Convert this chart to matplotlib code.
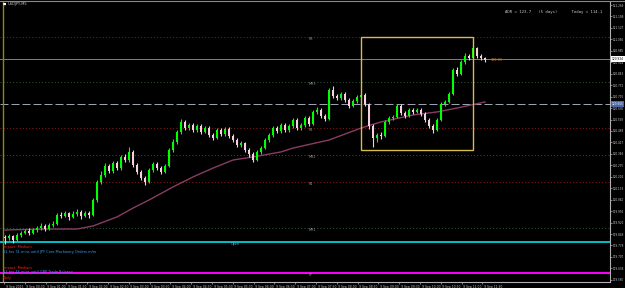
import matplotlib
matplotlib.use("Agg")
import matplotlib.pyplot as plt
import matplotlib.transforms as mtransforms
import numpy as np

# ---------------- data ----------------
symbol_title = "USDJPY,M5"
adr_text = "ADR = 123.7   (5 days)      Today = 114.1"

opens = [119.830, 119.824, 119.837, 119.812, 119.843, 119.855, 119.868, 119.855, 119.874, 119.886,
         119.899, 119.880, 119.905, 119.911, 119.967, 119.961, 119.979, 119.955, 119.973, 119.986,
         119.961, 119.979, 119.967, 120.060, 120.172, 120.215, 120.271, 120.240, 120.289, 120.258,
         120.327, 120.308, 120.358, 120.277, 120.234, 120.196, 120.172, 120.246, 120.283, 120.258,
         120.234, 120.271, 120.370, 120.420, 120.482, 120.544, 120.506, 120.525, 120.494, 120.519,
         120.482, 120.506, 120.463, 120.444, 120.494, 120.469, 120.500, 120.457, 120.432, 120.401,
         120.413, 120.370, 120.345, 120.308, 120.358, 120.382, 120.432, 120.463, 120.506, 120.488,
         120.525, 120.494, 120.519, 120.556, 120.506, 120.525, 120.568, 120.531, 120.606, 120.618,
         120.581, 120.562, 120.742, 120.705, 120.692, 120.717, 120.680, 120.643, 120.674, 120.699,
         120.711, 120.655, 120.519, 120.444, 120.463, 120.457, 120.544, 120.568, 120.575, 120.643,
         120.600, 120.581, 120.618, 120.606, 120.618, 120.593, 120.556, 120.519, 120.494, 120.556,
         120.655, 120.668, 120.717, 120.866, 120.841, 120.916, 120.953, 120.940, 121.002, 120.953,
         120.940]
closes = [119.824, 119.837, 119.812, 119.843, 119.855, 119.868, 119.855, 119.874, 119.886, 119.899,
          119.880, 119.905, 119.911, 119.967, 119.961, 119.979, 119.955, 119.973, 119.986, 119.961,
          119.979, 119.967, 120.060, 120.172, 120.215, 120.271, 120.240, 120.289, 120.258, 120.327,
          120.308, 120.358, 120.277, 120.234, 120.196, 120.172, 120.246, 120.283, 120.258, 120.234,
          120.271, 120.370, 120.420, 120.482, 120.544, 120.506, 120.525, 120.494, 120.519, 120.482,
          120.506, 120.463, 120.444, 120.494, 120.469, 120.500, 120.457, 120.432, 120.401, 120.413,
          120.370, 120.345, 120.308, 120.358, 120.382, 120.432, 120.463, 120.506, 120.488, 120.525,
          120.494, 120.519, 120.556, 120.506, 120.525, 120.568, 120.531, 120.606, 120.618, 120.581,
          120.562, 120.742, 120.705, 120.692, 120.717, 120.680, 120.643, 120.674, 120.699, 120.711,
          120.655, 120.519, 120.444, 120.463, 120.457, 120.544, 120.568, 120.575, 120.643, 120.600,
          120.581, 120.618, 120.606, 120.618, 120.593, 120.556, 120.519, 120.494, 120.556, 120.655,
          120.668, 120.717, 120.866, 120.841, 120.916, 120.953, 120.940, 121.002, 120.953, 120.940,
          120.928]
highs = [119.843, 119.849, 119.843, 119.855, 119.868, 119.880, 119.886, 119.886, 119.899, 119.917,
         119.911, 119.917, 119.930, 119.980, 119.986, 119.992, 119.986, 119.992, 120.004, 119.998,
         119.992, 119.992, 120.073, 120.184, 120.240, 120.289, 120.283, 120.302, 120.302, 120.339,
         120.345, 120.389, 120.370, 120.289, 120.246, 120.209, 120.258, 120.296, 120.296, 120.271,
         120.283, 120.382, 120.438, 120.494, 120.562, 120.556, 120.537, 120.537, 120.531, 120.531,
         120.519, 120.519, 120.476, 120.506, 120.506, 120.513, 120.513, 120.469, 120.444, 120.426,
         120.420, 120.382, 120.358, 120.370, 120.395, 120.444, 120.476, 120.519, 120.519, 120.537,
         120.537, 120.531, 120.568, 120.568, 120.537, 120.581, 120.581, 120.618, 120.637, 120.630,
         120.593, 120.755, 120.767, 120.717, 120.730, 120.730, 120.692, 120.686, 120.711, 120.724,
         120.724, 120.662, 120.531, 120.476, 120.482, 120.556, 120.581, 120.587, 120.655, 120.655,
         120.612, 120.630, 120.630, 120.630, 120.630, 120.606, 120.568, 120.531, 120.568, 120.668,
         120.680, 120.730, 120.878, 120.884, 120.928, 120.971, 120.965, 121.020, 121.008, 120.965,
         120.946]
lows = [119.790, 119.812, 119.795, 119.806, 119.830, 119.849, 119.843, 119.849, 119.862, 119.874,
        119.868, 119.874, 119.893, 119.905, 119.948, 119.955, 119.936, 119.948, 119.961, 119.942,
        119.955, 119.948, 119.961, 120.048, 120.160, 120.203, 120.228, 120.228, 120.246, 120.246,
        120.296, 120.296, 120.265, 120.221, 120.184, 120.153, 120.166, 120.234, 120.246, 120.221,
        120.228, 120.265, 120.358, 120.407, 120.469, 120.494, 120.494, 120.482, 120.482, 120.469,
        120.476, 120.451, 120.432, 120.438, 120.457, 120.457, 120.444, 120.420, 120.389, 120.389,
        120.358, 120.327, 120.296, 120.302, 120.345, 120.376, 120.420, 120.451, 120.476, 120.476,
        120.482, 120.482, 120.506, 120.494, 120.494, 120.513, 120.519, 120.525, 120.593, 120.568,
        120.550, 120.556, 120.693, 120.680, 120.680, 120.668, 120.630, 120.637, 120.662, 120.686,
        120.643, 120.500, 120.389, 120.420, 120.438, 120.451, 120.531, 120.556, 120.568, 120.587,
        120.568, 120.575, 120.593, 120.600, 120.581, 120.544, 120.506, 120.476, 120.488, 120.550,
        120.643, 120.662, 120.711, 120.829, 120.835, 120.903, 120.928, 120.934, 120.940, 120.928,
        120.916]

ma_bars = [0, 10, 18, 22, 28, 32, 36, 42, 47, 52, 57, 62, 69, 72, 81, 89, 94, 102, 108, 113, 120]
ma_values = [119.874, 119.880, 119.880, 119.899, 119.955, 120.010, 120.060, 120.141, 120.203, 120.258,
             120.308, 120.327, 120.358, 120.382, 120.432, 120.506, 120.544, 120.587, 120.606, 120.630,
             120.668]

level_names = ["R3", "MR3", "R2", "MR2", "R1", "MR1", "PP"]
level_prices = [121.071, 120.792, 120.506, 120.339, 120.172, 119.886, 119.607]
level_colors = ["#8a1a1a", "#2a5a36", "#8a1a1a", "#2a5a36", "#8a1a1a", "#2a5a36", "#ff00ff"]

bid_price = 120.934
dashed_price = 120.655
open_price = 119.800

box_bars = [89, 117]
box_prices = [120.370, 121.071]

ytick_values = [119.565 + 0.071 * k for k in range(25)]
xtick_labels = ["9 Sep 2015", "9 Sep 00:30", "9 Sep 01:00", "9 Sep 01:30", "9 Sep 02:00",
                "9 Sep 02:30", "9 Sep 03:00", "9 Sep 03:30", "9 Sep 04:00", "9 Sep 04:30",
                "9 Sep 05:00", "9 Sep 05:30", "9 Sep 06:00", "9 Sep 06:30", "9 Sep 07:00",
                "9 Sep 07:30", "9 Sep 08:00", "9 Sep 08:30", "9 Sep 09:00", "9 Sep 09:30",
                "9 Sep 10:00", "9 Sep 10:30", "9 Sep 11:00", "9 Sep 11:30"]
xtick_bars = [5.2 * k - 0.25 for k in range(24)]

news_lines = [("Impact: Medium", "#ff2020"),
              ("11 hrs 31 mins until JPY Core Machinery Orders m/m", "#3aa0e8"),
              ("Impact: Medium", "#ff2020"),
              ("13 hrs 46 mins until GBP Trade Balance", "#3aa0e8"),
              ("Daily", "#ff2020")]

# ---------------- figure ----------------
W, H = 625, 288
fig = plt.figure(figsize=(W / 100, H / 100), dpi=100, facecolor="black")
ax = fig.add_axes([0 / W, (H - 282) / H, 610 / W, 280 / H])
ax.set_facecolor("black")

def px2price(y):
    return 121.3 - 0.0062 * y

def px2bar(x):
    return (x - 5) / 4.0

ax.set_xlim(px2bar(0), px2bar(610))
ax.set_ylim(px2price(282), px2price(2))

pxw = 0.72  # one pixel in points

# levels
for name, p, col in zip(level_names, level_prices, level_colors):
    if name == "PP":
        ax.axhline(p, color=col, lw=1.4, zorder=1)
    else:
        ax.axhline(p, color=col, lw=pxw, linestyle=(0, (1, 2.2)), zorder=1)
    ax.text(px2bar(309), p, name, color="#9a9a9a", fontsize=2.4, ha="left", va="top", zorder=2)

ax.axhline(bid_price, color="#7c7c7c", lw=pxw, zorder=1)
ax.axhline(dashed_price, color="#9aa2b2", lw=pxw, linestyle=(0, (8, 3)), zorder=1)
ax.axhline(open_price, color="#00e0e8", lw=1.2, zorder=1)
ax.text(px2bar(231), open_price, "Open", color="#9a9a9a", fontsize=2.4, ha="left", va="top")

# period separator
ax.axvline(px2bar(3), color="#8a8a10", lw=1.0, zorder=1)

# moving average
ax.plot(ma_bars, ma_values, color="#8a3c64", lw=1.0, zorder=2)

# candles
idx = np.arange(len(closes))
o = np.array(opens); c = np.array(closes); h = np.array(highs); l = np.array(lows)
up = c >= o
bull = "#00ff00"
bear = "#f6d0dc"
ax.vlines(idx[up], l[up], h[up], color=bull, lw=0.8, zorder=3)
ax.vlines(idx[~up], l[~up], h[~up], color=bear, lw=0.8, zorder=3)
body = np.maximum(np.abs(c - o), 0.004)
ax.bar(idx[up], body[up], bottom=o[up], width=0.62, color=bull, lw=0, zorder=4)
ax.bar(idx[~up], body[~up], bottom=c[~up], width=0.62, color=bear, lw=0, zorder=4)

# box
ax.add_patch(plt.Rectangle((box_bars[0], box_prices[0]), box_bars[1] - box_bars[0],
                           box_prices[1] - box_prices[0], fill=False, ec="#d8bc48", lw=1.0, zorder=5))

# last price tag
ax.text(len(closes) + 0.5, closes[-1], f"{closes[-1]:.2f}", color="#e08a2a", fontsize=2.4,
        ha="left", va="center", zorder=6)

# axes styling
for s in ["top", "left"]:
    ax.spines[s].set_visible(False)
ax.spines["right"].set_color("#b0b0b0")
ax.spines["bottom"].set_color("#b0b0b0")
ax.spines["right"].set_linewidth(0.8)
ax.spines["bottom"].set_linewidth(0.8)
ax.yaxis.tick_right()
ax.set_yticks(ytick_values)
ax.set_yticklabels([f"{v:.3f}" for v in ytick_values])
ax.tick_params(axis="y", colors="#b0b0b0", labelcolor="#c8c8c8", labelsize=2.0, length=1.5,
               width=0.5, pad=0.8)
ax.set_xticks(xtick_bars)
ax.set_xticklabels(xtick_labels, ha="left")
ax.tick_params(axis="x", colors="#b0b0b0", labelcolor="#c8c8c8", labelsize=2.2, length=1.5,
               width=0.5, pad=0.6)
for lab in ax.get_xticklabels():
    lab.set_transform(lab.get_transform() + mtransforms.ScaledTranslation(1.5 / 100, 0, fig.dpi_scale_trans))

# highlighted price labels on the axis
trans = mtransforms.blended_transform_factory(ax.transAxes, ax.transData)
ax.text(1.003, bid_price, f"{bid_price:.3f}", transform=trans, fontsize=2.1, color="black",
        ha="left", va="center", bbox=dict(boxstyle="square,pad=0.25", fc="white", ec="none"),
        clip_on=False, zorder=10)
ax.text(1.003, dashed_price, f"{dashed_price:.3f}", transform=trans, fontsize=2.1, color="white",
        ha="left", va="center", bbox=dict(boxstyle="square,pad=0.25", fc="#4a66a8", ec="none"),
        clip_on=False, zorder=10)

# frame line on top
fig.add_artist(plt.Line2D([0, 1], [1 - 1 / H, 1 - 1 / H], color="#8a8a8a", lw=0.8))

# texts
fig.text(3 / W, 1 - 4 / H, "\u25a0", color="white", fontsize=2.5, va="center", ha="left")
fig.text(8 / W, 1 - 4.5 / H, symbol_title, color="#c8c8c8", fontsize=2.6, va="center", ha="left")
fig.text(505 / W, 1 - 12 / H, adr_text, color="#c8c8c8", fontsize=2.9, va="center", ha="left",
         family="DejaVu Sans Mono")

news_y = [247, 251.5, 267.5, 272, 277.5]
for (t, col), yy in zip(news_lines, news_y):
    fig.text(3 / W, 1 - yy / H, t, color=col, fontsize=2.5, va="center", ha="left")

fig.savefig("out.png", dpi=100, facecolor="black")
